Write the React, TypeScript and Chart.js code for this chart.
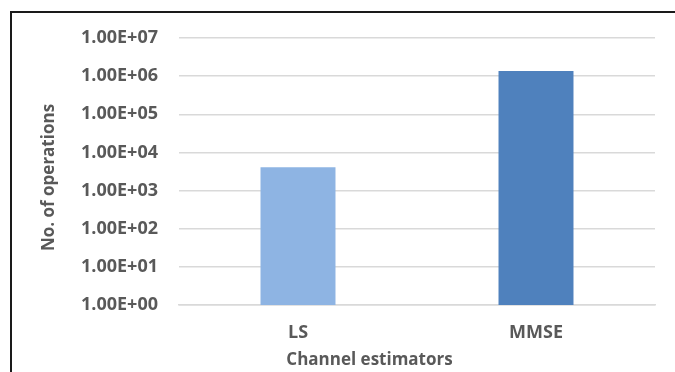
import React, { useEffect, useRef } from "react";
import { Chart, registerables } from "chart.js";

Chart.register(...registerables);

// Operation counts per channel estimator (log scale)
const categories = ["LS", "MMSE"];
const operations = [4096, 1360000];
const barColors = ["#8EB4E3", "#4F81BD"];
const tickValues = [1, 10, 100, 1000, 10000, 100000, 1000000, 10000000];
const xTitle = "Channel estimators";
const yTitle = "No. of operations";

const textColor = "#595959";
const gridColor = "#D9D9D9";
const fontFamily = "'Open Sans', 'DejaVu Sans', sans-serif";

// 1.00E+03 style labels
function sciLabel(v: number): string {
  const exp = Math.round(Math.log10(v));
  const mant = v / Math.pow(10, exp);
  const sign = exp < 0 ? "-" : "+";
  const e = String(Math.abs(exp)).padStart(2, "0");
  return `${mant.toFixed(2)}E${sign}${e}`;
}

// Axis titles placed relative to the whole chart frame rather than the plot area
const axisTitles = {
  id: "axisTitles",
  afterDraw(chart: any, _args: any, opts: any) {
    const ctx = chart.ctx;
    ctx.save();
    ctx.fillStyle = opts.color;
    ctx.font = `bold ${opts.size}px ${fontFamily}`;
    ctx.textAlign = "center";
    ctx.textBaseline = "alphabetic";
    ctx.fillText(opts.xText, opts.xCenter, opts.xBaseline);
    ctx.translate(opts.yBaseline, opts.yCenter);
    ctx.rotate(-Math.PI / 2);
    ctx.fillText(opts.yText, 0, 0);
    ctx.restore();
  },
};

export default function App() {
  const canvasRef = useRef<HTMLCanvasElement | null>(null);

  useEffect(() => {
    if (!canvasRef.current) return;
    const chart = new Chart(canvasRef.current, {
      type: "bar",
      data: {
        labels: categories,
        datasets: [
          {
            data: operations,
            backgroundColor: barColors,
            borderWidth: 0,
            barPercentage: 0.315,
            categoryPercentage: 1,
          },
        ],
      },
      plugins: [axisTitles],
      options: {
        animation: false,
        responsive: false,
        maintainAspectRatio: false,
        layout: { padding: { top: 38, right: 20, bottom: 0, left: 0 } },
        plugins: {
          legend: { display: false },
          tooltip: { enabled: false },
          axisTitles: {
            color: textColor,
            size: 17,
            xText: xTitle,
            xCenter: 369.5,
            xBaseline: 365,
            yText: yTitle,
            yCenter: 177.5,
            yBaseline: 53.5,
          },
        } as any,
        scales: {
          x: {
            grid: { display: false, drawTicks: false },
            border: { display: true, color: gridColor, width: 1.5 },
            ticks: {
              color: textColor,
              font: { family: fontFamily, size: 18, weight: "bold" },
              padding: 17,
            },
            afterFit: (scale: any) => {
              scale.height = 67;
            },
          },
          y: {
            type: "logarithmic",
            min: 1,
            max: 10000000,
            grid: { color: gridColor, lineWidth: 1.5, drawTicks: false },
            border: { display: false },
            ticks: {
              color: textColor,
              font: { family: fontFamily, size: 18, weight: "bold" },
              padding: 21,
              callback: (v: any) => sciLabel(Number(v)),
            },
            afterBuildTicks: (scale: any) => {
              scale.ticks = tickValues.map((value) => ({ value }));
            },
            afterFit: (scale: any) => {
              scale.width = 179;
            },
          },
        },
      },
    });
    return () => chart.destroy();
  }, []);

  return (
    <div
      style={{
        position: "fixed",
        left: 0,
        top: 0,
        width: 675,
        height: 372,
        overflow: "hidden",
        background: "#ffffff",
      }}
    >
      <div
        style={{
          position: "absolute",
          left: 10,
          top: 11,
          width: 720,
          height: 420,
          border: "2px solid #1a1a1a",
        }}
      />
      <canvas
        ref={canvasRef}
        width={675}
        height={372}
        style={{ position: "absolute", left: 0, top: 0 }}
      />
    </div>
  );
}
